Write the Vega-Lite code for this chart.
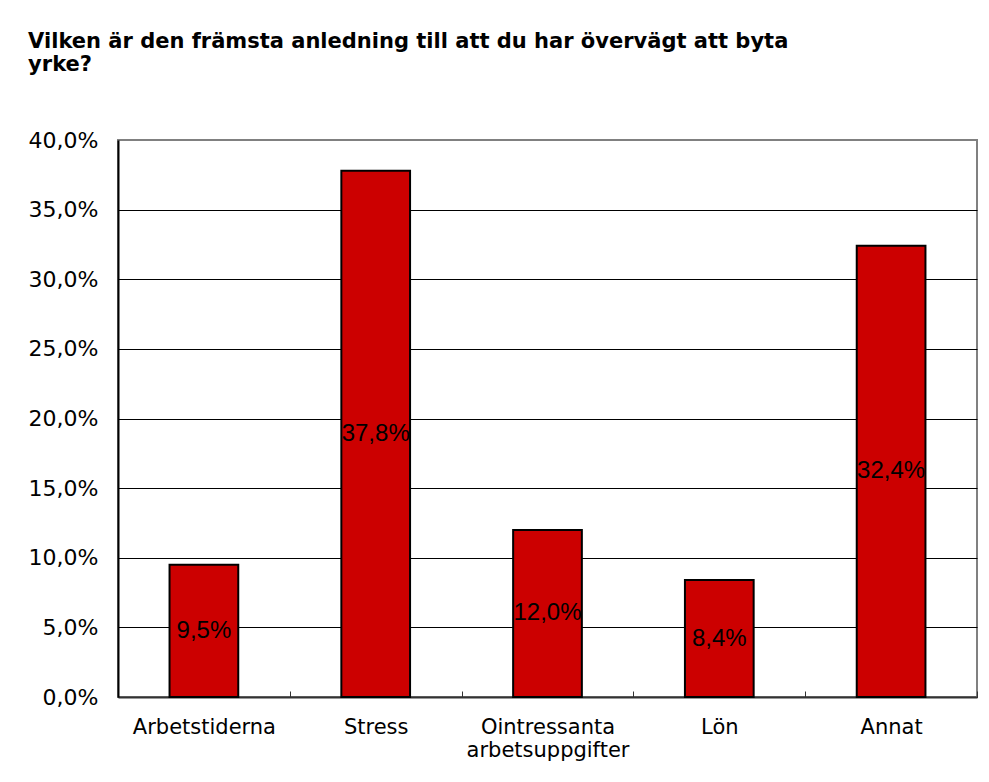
{
  "$schema": "https://vega.github.io/schema/vega-lite/v6.json",
  "width": 859,
  "height": 557,
  "autosize": {"type": "none"},
  "padding": {"left": 118, "top": 140, "right": 12, "bottom": 85},
  "background": "white",
  "title": {
    "text": ["Vilken är den främsta anledning till att du har övervägt att byta", "yrke?"],
    "anchor": "start",
    "frame": "bounds",
    "font": "DejaVu Sans",
    "fontSize": 21,
    "fontWeight": "bold",
    "color": "black",
    "lineHeight": 23,
    "offset": 54
  },
  "data": {
    "values": [
      {"kategori": "Arbetstiderna", "andel": 0.095},
      {"kategori": "Stress", "andel": 0.378},
      {"kategori": "Ointressanta arbetsuppgifter", "andel": 0.12},
      {"kategori": "Lön", "andel": 0.084},
      {"kategori": "Annat", "andel": 0.324}
    ]
  },
  "encoding": {
    "x": {
      "field": "kategori",
      "type": "nominal",
      "sort": null,
      "scale": {"paddingInner": 0, "paddingOuter": 0},
      "axis": {
        "title": null,
        "labelAngle": 0,
        "tickBand": "extent",
        "tickSize": -6,
        "tickColor": "#333333",
        "tickWidth": 1,
        "labelFont": "DejaVu Sans",
        "labelFontSize": 21,
        "labelColor": "black",
        "labelPadding": 25,
        "labelLineHeight": 23,
        "labelBaseline": "top",
        "domainColor": "#333333",
        "domainWidth": 2,
        "labelExpr": "datum.label == 'Ointressanta arbetsuppgifter' ? ['Ointressanta', 'arbetsuppgifter'] : datum.label"
      }
    }
  },
  "layer": [
    {
      "mark": {"type": "bar", "width": {"band": 0.4}, "color": "#CC0000", "stroke": "black", "strokeWidth": 2},
      "encoding": {
        "y": {
          "field": "andel",
          "type": "quantitative",
          "scale": {"domain": [0, 0.4]},
          "axis": {
            "title": null,
            "format": ".1%",
            "values": [0, 0.05, 0.1, 0.15, 0.2, 0.25, 0.3, 0.35, 0.4],
            "grid": true,
            "gridColor": {"condition": {"test": "datum.value >= 0.4", "value": "#808080"}, "value": "black"},
            "gridWidth": 1,
            "ticks": false,
            "labelFont": "DejaVu Sans",
            "labelFontSize": 22,
            "labelColor": "black",
            "labelPadding": 20,
            "domainColor": "black",
            "domainWidth": 2
          }
        }
      }
    },
    {
      "transform": [{"calculate": "datum.andel / 2", "as": "mitt"}],
      "mark": {"type": "text", "font": "Liberation Sans", "fontSize": 24, "color": "black", "baseline": "middle"},
      "encoding": {
        "y": {"field": "mitt", "type": "quantitative"},
        "text": {"field": "andel", "type": "quantitative", "format": ".1%"}
      }
    }
  ],
  "config": {
    "locale": {"number": {"decimal": ",", "thousands": " ", "grouping": [3], "currency": ["", " kr"]}},
    "view": {"stroke": "#808080", "strokeWidth": 2}
  }
}
